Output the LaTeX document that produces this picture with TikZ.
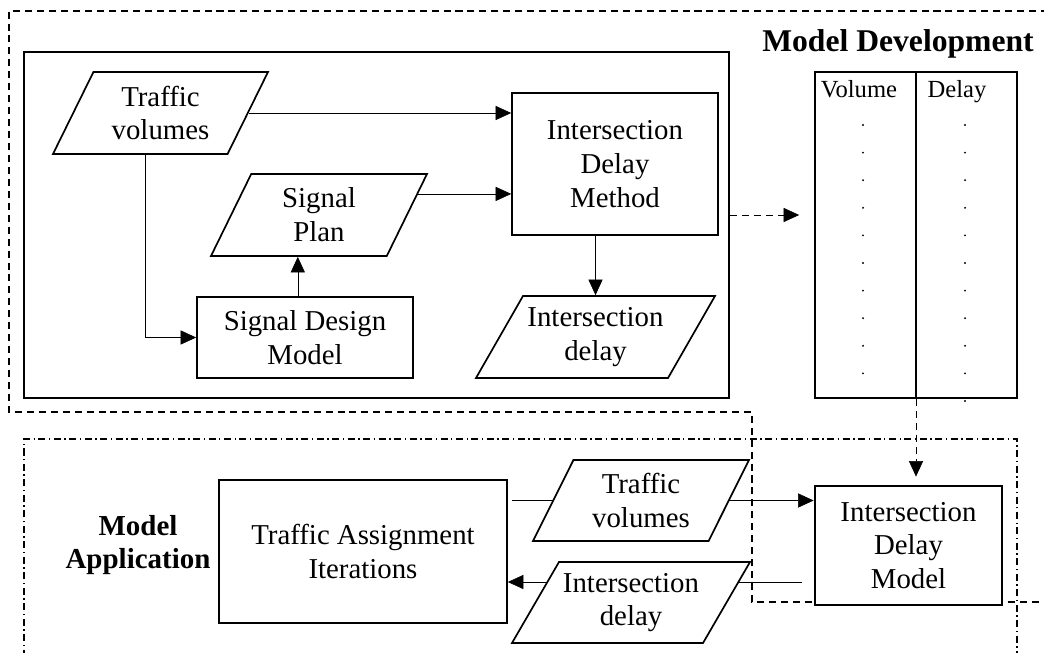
\documentclass[tikz,border=0pt]{standalone}
\usepackage{fontspec}
\setmainfont{Liberation Serif}
\usetikzlibrary{arrows.meta,shapes.geometric,calc}
\pgfdeclarelayer{bg}
\pgfsetlayers{bg,main}

\begin{document}
\begin{tikzpicture}[>={Triangle[length=11pt,width=10pt]}, line width=1pt,
    box/.style={draw, fill=white, line width=1.2pt, inner sep=2pt, align=center,
        font=\fontsize{20.5}{24}\selectfont},
    bigbox/.style={box, line width=2pt},
    iobox/.style={box, trapezium, trapezium left angle=56, trapezium right angle=124,
        trapezium stretches body, minimum height=2.05cm},
    headlabel/.style={align=center, font=\fontsize{22.5}{26}\selectfont\bfseries},
    devline/.style={dash pattern=on 5pt off 3.5pt},
    appline/.style={dash pattern=on 5pt off 2.5pt on 1pt off 2.5pt}]
    \useasboundingbox (0,0) rectangle (26.1,16.3);

    % 外框
    \draw[devline] (26.5,16.025) -- (0.225,16.025) -- (0.225,6.0) -- (18.8,6.0) -- (18.8,1.25) -- (26.5,1.25);
    \draw[appline] (0.6,-0.5) -- (0.6,5.325) -- (25.425,5.325) -- (25.425,-0.5);

    % Model Development
    \node[draw, line width=2pt, minimum width=17.625cm, minimum height=8.65cm] (devbox) at (9.4125,10.675) {};
    \node[iobox, minimum width=5.375cm] (tv1) at (4.0125,13.475) {Traffic\\volumes};
    \node[iobox, minimum width=5.4cm] (plan) at (7.975,10.925) {Signal\\Plan};
    \node[box, minimum width=5.4cm, minimum height=2.025cm] (sdm) at (7.625,7.8625) {Signal Design\\Model};
    \node[box, minimum width=5.15cm, minimum height=3.55cm] (idmeth) at (15.375,12.2) {Intersection\\Delay\\Method};
    \node[iobox, trapezium left angle=54, trapezium right angle=126, minimum width=5.975cm] (id1) at (14.8875,7.875) {Intersection\\delay};
    \node[headlabel, anchor=base] (mdev) at (22.45,15.0) {Model Development};

    % 表格
    \node[draw, line width=1.2pt, minimum width=5.05cm, minimum height=8.15cm] (tbl) at (22.9,10.425) {};
    \draw[line width=1.2pt] (tbl.north) -- (tbl.south);
    \node[anchor=base, font=\fontsize{17.5}{20}\selectfont] (vol) at (21.475,13.85) {Volume};
    \node[anchor=base, font=\fontsize{17.5}{20}\selectfont] (del) at (23.925,13.85) {Delay};
    \foreach \i in {0,...,9}
        \fill (21.575,13.175-0.69*\i) circle (0.75pt);
    \foreach \i in {0,...,10}
        \fill (24.125,13.175-0.69*\i) circle (0.75pt);

    % Model Application
    \node[box, minimum width=7.2cm, minimum height=3.575cm] (tai) at (9.075,2.5125) {Traffic Assignment\\Iterations};
    \node[iobox, minimum width=5.4cm, minimum height=2.025cm] (tv2) at (16.025,3.7875) {Traffic\\volumes};
    \node[iobox, trapezium left angle=54, trapezium right angle=126, minimum width=5.95cm, minimum height=2.025cm] (id2) at (15.775,1.2375) {Intersection\\delay};
    \node[bigbox, minimum width=4.675cm, minimum height=2.975cm] (idm) at (22.7125,2.6625) {Intersection\\Delay\\Model};
    \node[headlabel, font=\fontsize{20.6}{24}\selectfont\bfseries] (mapp) at (3.45,2.675) {Model\\Application};

    % 连线
    \begin{pgfonlayer}{bg}
        \draw[->] (tv1.east) -- (tv1.east -| idmeth.west);
        \draw[->] (plan.12) -- (plan.12 -| idmeth.west);
        \draw[->] ([xshift=0.14cm]tv1.bottom side) |- (sdm.west);
        \draw[->] ([xshift=-0.18cm]sdm.north) -- ([xshift=-0.18cm]sdm.north |- plan.south);
        \draw[->] (id1.north |- idmeth.south) -- (id1.north);
        \draw[->, devline, shorten >=0.375cm] (plan -| devbox.east) -- (plan -| tbl.west);
        \draw[->, devline, shorten >=0.2cm] (tbl.south) -- (tbl.south |- idm.north);
        \draw[->, shorten <=0.1cm] (tai.east |- tv2) -- (idm.west |- tv2);
        \draw[->, shorten <=0.3cm] ([yshift=-0.9125cm]idm.west) -- ([yshift=-0.9125cm]idm.west -| tai.east);
    \end{pgfonlayer}
\end{tikzpicture}
\end{document}
